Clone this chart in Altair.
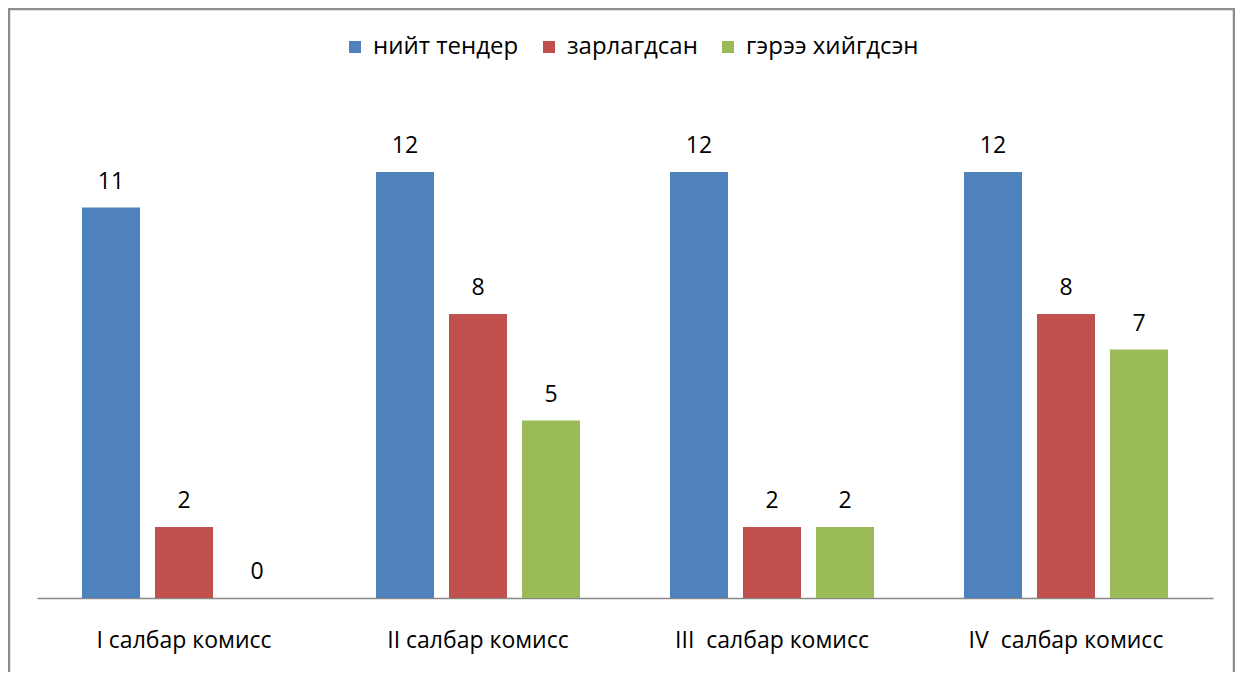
import altair as alt
import pandas as pd

categories = ["I салбар комисс", "II салбар комисс", "III\u00a0 салбар комисс", "IV\u00a0 салбар комисс"]
series = ["нийт тендер", "зарлагдсан", "гэрээ хийгдсэн"]
total = [11, 12, 12, 12]
announced = [2, 8, 2, 8]
contracted = [0, 5, 2, 7]
colors = ["#4F81BD", "#C0504D", "#9BBB59"]

rows = []
for i, c in enumerate(categories):
    for s, vals in zip(series, [total, announced, contracted]):
        rows.append({"cat": c, "series": s, "value": vals[i]})
df = pd.DataFrame(rows)

FONT = "Open Sans"
W, H = 1176, 497
PL, PT, PR, PB = 29, 93, 22, 74

x = alt.X("cat:N", sort=categories,
          scale=alt.Scale(paddingInner=0.306, paddingOuter=0.153),
          axis=alt.Axis(title=None, labelAngle=0, ticks=False, domainColor="#888888",
                        domainWidth=1.5, labelFontSize=23, labelFont=FONT,
                        labelColor="black", labelPadding=31, labelLimit=400))
xo = alt.XOffset("series:N", sort=series, scale=alt.Scale(paddingInner=0.205, paddingOuter=0))
y = alt.Y("value:Q", scale=alt.Scale(domain=[0, 14]), axis=None)
color = alt.Color("series:N", sort=series,
                  scale=alt.Scale(domain=series, range=colors),
                  legend=alt.Legend(title=None, orient="none", legendX=306, legendY=-66,
                                    direction="horizontal", symbolType="square",
                                    symbolSize=144, symbolStrokeWidth=0,
                                    labelFontSize=24, labelFont=FONT, labelColor="black",
                                    columnPadding=18, labelOffset=6, labelLimit=400))

bars = alt.Chart(df).mark_bar().encode(x=x, xOffset=xo, y=y, color=color)
text = alt.Chart(df).mark_text(baseline="alphabetic", dy=-19, fontSize=23, font=FONT,
                               color="black").encode(
    x=alt.X("cat:N", sort=categories), xOffset=alt.XOffset("series:N", sort=series),
    y=y, text="value:Q")

border = alt.Chart(pd.DataFrame({"a": [0]})).mark_rect(
    fillOpacity=0, stroke="#8c8c8c", strokeWidth=2.5).encode(
    x=alt.value(-PL + 1), x2=alt.value(W + PR - 1),
    y=alt.value(-PT + 1), y2=alt.value(H + PB + 20))

chart = alt.layer(bars, text, border).properties(
    width=W, height=H,
    autosize=alt.AutoSizeParams(type="none"),
    padding={"left": PL, "top": PT, "right": PR, "bottom": PB},
).configure_view(stroke=None)

chart.save("out.html", embed_options={"renderer": "svg", "actions": False})
